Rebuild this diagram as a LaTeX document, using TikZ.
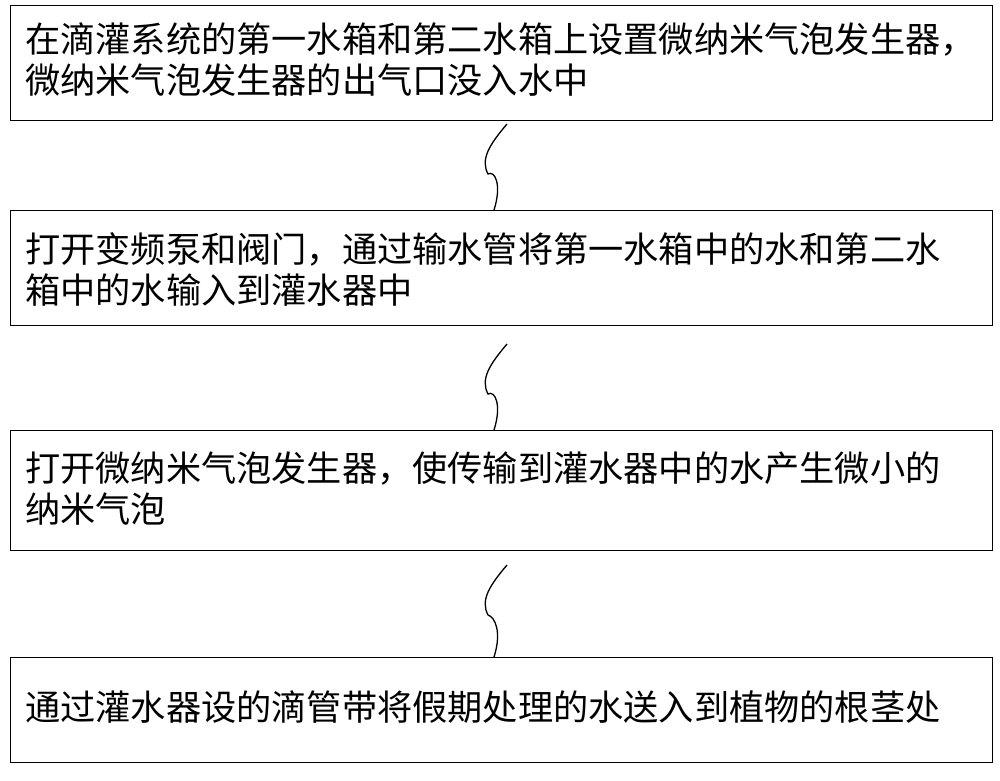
\documentclass[tikz,border=0pt]{standalone}
\usepackage{fontspec}
\newfontfamily\cjk{Noto Sans CJK SC}
\begin{document}
\begin{tikzpicture}[x=1pt,y=-1pt,
  stepbox/.style={draw,line width=1pt},
  txt/.style={anchor=north west,font=\cjk\fontsize{35.2}{41}\selectfont,inner sep=0pt,align=left},
  wave/.style={line width=1.3pt}]
\useasboundingbox (0,0) rectangle (1000,780);
\draw[stepbox] (10,5) rectangle (992,120);
\draw[stepbox] (10,210) rectangle (992,325);
\draw[stepbox] (10,430) rectangle (992,550);
\draw[stepbox] (10,657) rectangle (992,762);
\node[txt] (t1) at (25,22) {在滴灌系统的第一水箱和第二水箱上设置微纳米气泡发生器，\\微纳米气泡发生器的出气口没入水中};
\node[txt] (t2) at (25,232) {打开变频泵和阀门，通过输水管将第一水箱中的水和第二水\\箱中的水输入到灌水器中};
\node[txt] (t3) at (25,452) {打开微纳米气泡发生器，使传输到灌水器中的水产生微小的\\纳米气泡};
\node[txt] (t4) at (25,690) {通过灌水器设的滴管带将假期处理的水送入到植物的根茎处};
\foreach \a/\b in {124/210,344/430,565/657}{
  \draw[wave] (507,\a) .. controls (490,\a+20) and (480,\a+35) .. (488,\a+50)
    .. controls (495,\b-40) and (502,\b-25) .. (494,\b);
}
\end{tikzpicture}
\end{document}
